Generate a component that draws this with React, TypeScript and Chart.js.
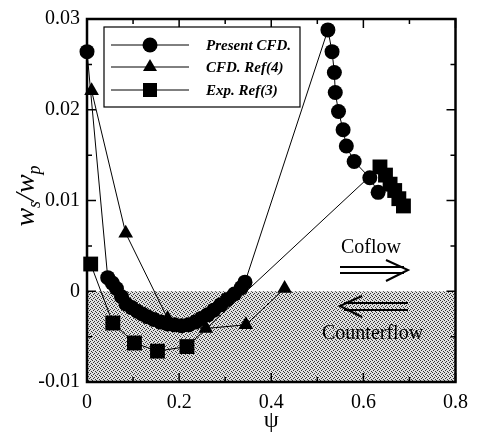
import React, { useEffect, useRef } from 'react';
import { Chart, registerables } from 'chart.js';
Chart.register(...registerables);

// Present CFD (circles)
const presentX = [0, 0.045, 0.055, 0.064, 0.075, 0.085, 0.097, 0.109, 0.12, 0.131, 0.145, 0.16, 0.175, 0.19, 0.205, 0.22, 0.235, 0.248, 0.262, 0.275, 0.29, 0.305, 0.32, 0.335, 0.343, 0.523, 0.532, 0.537, 0.539, 0.546, 0.556, 0.563, 0.58, 0.614, 0.632];
const presentY = [0.0264, 0.0015, 0.0009, 0.0003, -0.0006, -0.0014, -0.0018, -0.0022, -0.0025, -0.0028, -0.0031, -0.0034, -0.0036, -0.0037, -0.0038, -0.0037, -0.0034, -0.003, -0.0026, -0.0021, -0.0015, -0.0009, -0.0003, 0.0004, 0.001, 0.0288, 0.0264, 0.0241, 0.0219, 0.0198, 0.0178, 0.016, 0.0143, 0.0125, 0.0109];
// CFD Ref(4) (triangles)
const cfdX = [0.01, 0.084, 0.175, 0.258, 0.345, 0.429];
const cfdY = [0.0221, 0.0064, -0.003, -0.0041, -0.0037, 0.0003];
// Exp. Ref(3) (squares)
const expX = [0.008, 0.056, 0.103, 0.153, 0.217, 0.636, 0.648, 0.658, 0.668, 0.677, 0.687];
const expY = [0.003, -0.0035, -0.0057, -0.0066, -0.0061, 0.0137, 0.0128, 0.0118, 0.0111, 0.0102, 0.0094];

const xTickLabels = ['0', '0.2', '0.4', '0.6', '0.8'];
const yTickLabels = ['-0.01', '0', '0.01', '0.02', '0.03'];
const legendLabels = ['Present CFD.', 'CFD. Ref(4)', 'Exp. Ref(3)'];
const legendShapes = ['circle', 'triangle', 'rect'];

const toPts = (xs: number[], ys: number[]) => xs.map((x, i) => ({ x, y: ys[i] }));

export default function App() {
  const ref = useRef<HTMLCanvasElement>(null);
  useEffect(() => {
    const canvas = ref.current!;
    const pc = document.createElement('canvas');
    pc.width = 4; pc.height = 4;
    const pctx = pc.getContext('2d')!;
    pctx.fillStyle = '#e0e0e0';
    pctx.fillRect(0, 0, 4, 4);
    pctx.fillStyle = '#333333';
    [[0, 0], [2, 1], [1, 2], [3, 3]].forEach(([a, b]) => pctx.fillRect(a, b, 1, 1));

    const serif = '"Liberation Serif", "DejaVu Serif", serif';

    const drawMarker = (ctx: CanvasRenderingContext2D, shape: string, x: number, y: number) => {
      ctx.beginPath();
      if (shape === 'circle') ctx.arc(x, y, 7.5, 0, Math.PI * 2);
      else if (shape === 'triangle') { ctx.moveTo(x, y - 8); ctx.lineTo(x + 7, y + 4); ctx.lineTo(x - 7, y + 4); ctx.closePath(); }
      else ctx.rect(x - 7, y - 7, 14, 14);
      ctx.fill();
    };

    const plugin = {
      id: 'custom',
      beforeDatasetsDraw(chart: any) {
        const { ctx, scales } = chart;
        const xs = scales.x, ys = scales.y;
        const pat = ctx.createPattern(pc, 'repeat');
        ctx.save();
        ctx.fillStyle = pat;
        const x0 = xs.getPixelForValue(0), x1 = xs.getPixelForValue(0.8);
        const y0 = ys.getPixelForValue(0), y1 = ys.getPixelForValue(-0.01);
        ctx.fillRect(x0, y0, x1 - x0, y1 - y0);
        ctx.restore();
      },
      afterDatasetsDraw(chart: any) {
        const { ctx, scales, chartArea: ca } = chart;
        const xs = scales.x, ys = scales.y;
        ctx.save();
        ctx.strokeStyle = '#000';
        ctx.fillStyle = '#000';
        // ticks
        ctx.lineWidth = 1.5;
        for (let i = 0; i <= 8; i++) {
          const v = i * 0.1;
          const px = xs.getPixelForValue(v);
          const len = i % 2 === 0 ? 9 : 5;
          ctx.beginPath();
          ctx.moveTo(px, ca.bottom); ctx.lineTo(px, ca.bottom - len);
          ctx.moveTo(px, ca.top); ctx.lineTo(px, ca.top + len);
          ctx.stroke();
        }
        for (let i = 0; i <= 8; i++) {
          const v = -0.01 + i * 0.005;
          const py = ys.getPixelForValue(v);
          const len = i % 2 === 0 ? 9 : 5;
          ctx.beginPath();
          ctx.moveTo(ca.left, py); ctx.lineTo(ca.left + len, py);
          ctx.moveTo(ca.right, py); ctx.lineTo(ca.right - len, py);
          ctx.stroke();
        }
        // frame
        ctx.lineWidth = 2.5;
        ctx.strokeRect(ca.left, ca.top, ca.right - ca.left, ca.bottom - ca.top);

        // legend
        const lx = 104, ly = 27, lw = 196, lh = 80;
        ctx.fillStyle = '#fff';
        ctx.fillRect(lx, ly, lw, lh);
        ctx.lineWidth = 1.2;
        ctx.strokeRect(lx, ly, lw, lh);
        ctx.fillStyle = '#000';
        const rows = [45, 67, 90];
        ctx.font = `italic bold 15px ${serif}`;
        ctx.textAlign = 'left';
        ctx.textBaseline = 'middle';
        rows.forEach((ry, i) => {
          ctx.lineWidth = 1;
          ctx.beginPath(); ctx.moveTo(111, ry); ctx.lineTo(189, ry); ctx.stroke();
          drawMarker(ctx, legendShapes[i], 150, ry);
          ctx.fillText(legendLabels[i], 206, ry + 1);
        });

        // annotations
        ctx.font = `20px ${serif}`;
        ctx.fillText('Coflow', 341, 248);
        ctx.fillText('Counterflow', 322, 334);
        ctx.lineWidth = 2;
        ctx.beginPath();
        ctx.moveTo(340, 267); ctx.lineTo(404, 267);
        ctx.moveTo(340, 273); ctx.lineTo(404, 273);
        ctx.moveTo(386, 260); ctx.lineTo(408, 270); ctx.lineTo(386, 281);
        ctx.moveTo(344, 303); ctx.lineTo(408, 303);
        ctx.moveTo(344, 310); ctx.lineTo(408, 310);
        ctx.moveTo(362, 296); ctx.lineTo(340, 306); ctx.lineTo(362, 317);
        ctx.stroke();

        // x title
        ctx.textAlign = 'center';
        ctx.textBaseline = 'middle';
        ctx.font = `24px ${serif}`;
        ctx.fillText('\u03c8', (ca.left + ca.right) / 2, 421);

        // y title
        ctx.translate(26, 196);
        ctx.rotate(-Math.PI / 2);
        ctx.textAlign = 'left';
        ctx.textBaseline = 'alphabetic';
        const big = `italic 28px ${serif}`, small = `italic 18px ${serif}`;
        const parts: [string, string, number][] = [['w', big, 0], ['s', small, 6], ['/', big, 0], ['w', big, 0], ['p', small, 6]];
        let tw = 0;
        parts.forEach(([t, f]) => { ctx.font = f; tw += ctx.measureText(t).width; });
        let cx = -tw / 2;
        parts.forEach(([t, f, dy]) => { ctx.font = f; ctx.fillText(t, cx, 8 + dy); cx += ctx.measureText(t).width; });
        ctx.restore();
      },
    };

    const ds = (label: string, data: any[], style: string, r: number) => ({
      label, data, showLine: true, pointStyle: style, pointRadius: r,
      backgroundColor: '#000', borderColor: '#000', borderWidth: 1,
      pointBorderWidth: 0, clip: false as any,
    });

    const chart = new Chart(canvas, {
      type: 'scatter',
      data: {
        datasets: [
          ds('Present CFD.', toPts(presentX, presentY), 'circle', 7.5),
          ds('CFD. Ref(4)', toPts(cfdX, cfdY), 'triangle', 8.5),
          ds('Exp. Ref(3)', toPts(expX, expY), 'rect', 10.5),
        ],
      },
      options: {
        responsive: false,
        animation: false,
        layout: { padding: { top: 13, right: 17, left: 0, bottom: 0 } },
        plugins: { legend: { display: false }, tooltip: { enabled: false } },
        scales: {
          x: {
            type: 'linear', min: 0, max: 0.8,
            afterFit: (s: any) => { s.height = 55; },
            grid: { display: false, drawTicks: false },
            border: { display: false },
            ticks: {
              stepSize: 0.2, padding: 9, color: '#000',
              font: { family: serif, size: 20 },
              callback: (_v: any, i: number) => xTickLabels[i],
            },
          },
          y: {
            type: 'linear', min: -0.01, max: 0.03,
            afterFit: (s: any) => { s.width = 87; },
            grid: { display: false, drawTicks: false },
            border: { display: false },
            ticks: {
              stepSize: 0.01, padding: 7, color: '#000',
              font: { family: serif, size: 20 },
              callback: (_v: any, i: number) => yTickLabels[i],
            },
          },
        },
      },
      plugins: [plugin],
    });
    return () => chart.destroy();
  }, []);
  return (
    <div style={{ position: 'absolute', left: 0, top: 0, width: 477, height: 437, background: '#fff' }}>
      <canvas ref={ref} width={477} height={437} style={{ display: 'block' }} />
    </div>
  );
}
